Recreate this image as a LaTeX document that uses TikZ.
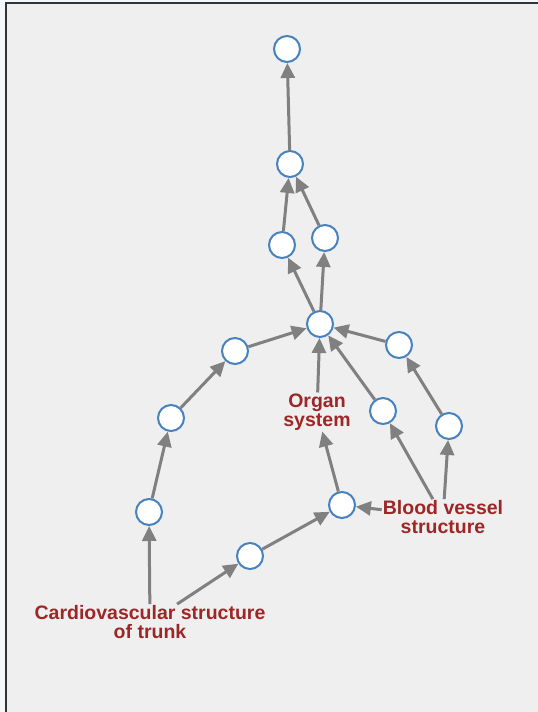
\documentclass[tikz,border=0pt]{standalone}
\usepackage{fontspec}
\setmainfont{Liberation Sans}
\usetikzlibrary{arrows.meta}
\definecolor{bgc}{HTML}{EFEFEF}
\definecolor{stripc}{HTML}{F3F8FC}
\definecolor{framec}{HTML}{333333}
\definecolor{nodeblue}{RGB}{70,130,190}
\definecolor{edgegray}{RGB}{128,128,128}
\definecolor{labred}{HTML}{9E2626}
\tikzset{
  vnode/.style={circle,draw=nodeblue,fill=white,line width=2pt,minimum size=26pt,inner sep=0pt},
  vlabel/.style={fill=bgc,text=labred,font=\bfseries\fontsize{19.5}{19}\selectfont,align=center,inner sep=1pt},
  edge/.style={draw=edgegray,line width=3pt,-{Triangle[length=15pt,width=14pt]}}
}
\begin{document}
\begin{tikzpicture}[x=1pt,y=-1pt]
\useasboundingbox (0,0) rectangle (538,712);
\fill[stripc] (0,0) rectangle (538,712);
\fill[bgc] (6,3) rectangle (538,712);
\draw[framec,line width=2pt] (6,712) -- (6,2.5) -- (538,2.5);
% nodes
\node[vnode] (n1) at (287,49) {};
\node[vnode] (n2) at (290,164) {};
\node[vnode] (n3) at (282,245) {};
\node[vnode] (n4) at (325,238) {};
\node[vnode] (n5) at (320,324) {};
\node[vnode] (n6) at (235,351) {};
\node[vnode] (n7) at (399,345) {};
\node[vnode] (n8) at (171,418) {};
\node[vnode] (n9) at (383,411) {};
\node[vnode] (n10) at (449,426) {};
\node[vnode] (n11) at (149,512) {};
\node[vnode] (n12) at (342,505) {};
\node[vnode] (n13) at (250,556) {};
\node[vlabel] (org) at (317,412) {Organ\\system};
\node[vlabel] (bv) at (443,517) {Blood vessel\\structure};
\node[vlabel] (cv) at (150,622) {Cardiovascular structure\\of trunk};
% edges
\draw[edge] (n2) -- (n1);
\draw[edge] (n3) -- (n2);
\draw[edge] (n4) -- (n2);
\draw[edge] (n5) -- (n3);
\draw[edge] (n5) -- (n4);
\draw[edge] (n6) -- (n5);
\draw[edge] (n7) -- (n5);
\draw[edge] (org) -- (n5);
\draw[edge] (n9) -- (n5);
\draw[edge] (n8) -- (n6);
\draw[edge] (n10) -- (n7);
\draw[edge] (n11) -- (n8);
\draw[edge] (n12) -- (org);
\draw[edge] (bv) -- (n12);
\draw[edge] (bv) -- (n9);
\draw[edge] (bv) -- (n10);
\draw[edge] (cv) -- (n11);
\draw[edge] (cv) -- (n13);
\draw[edge] (n13) -- (n12);
\end{tikzpicture}
\end{document}
